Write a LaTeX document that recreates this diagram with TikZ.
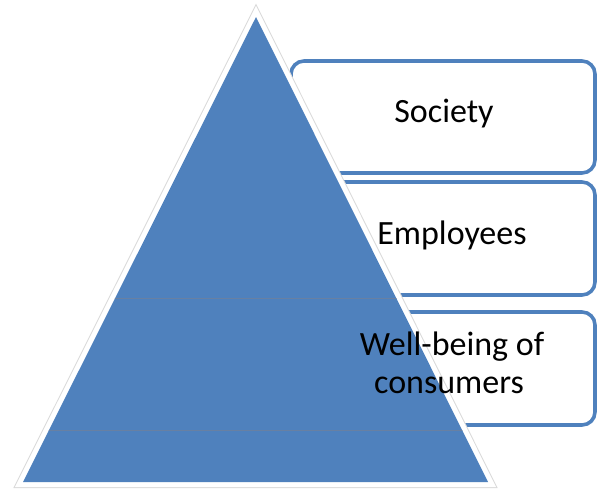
\documentclass[tikz,border=0pt]{standalone}
\usepackage{fontspec}
\setmainfont{Carlito}
\definecolor{pyrblue}{RGB}{79,129,189}
\definecolor{pyrseam}{RGB}{104,128,162}
\definecolor{pyrshade}{RGB}{218,218,218}
\begin{document}
\begin{tikzpicture}[x=1pt,y=-1pt,
  levelbox/.style={draw=pyrblue, line width=3.6pt, fill=white, rounded corners=13pt},
  leveltext/.style={font=\fontsize{34}{39}\selectfont, align=center, text=black, inner sep=0pt}]
\useasboundingbox (0,0) rectangle (597,491);

% level boxes on the right
\draw[levelbox] (291,61) rectangle (595,173) coordinate (b1);
\draw[levelbox] (291,182) rectangle (595,295) coordinate (b2);
\draw[levelbox] (291,312) rectangle (595,425) coordinate (b3);

% pyramid corners
\coordinate (apex) at (256,17);
\coordinate (bl) at (23,482);
\coordinate (br) at (488,482);

% soft outline and white rim of the pyramid
\draw[pyrshade, line width=12pt, line join=miter] (apex) -- (bl) -- (br) -- cycle;
\draw[white, line width=10pt, line join=miter] (apex) -- (bl) -- (br) -- cycle;
\fill[pyrblue] (apex) -- (bl) -- (br) -- cycle;

% faint seams across the pyramid
\begin{scope}
  \clip (apex) -- (bl) -- (br) -- cycle;
  \draw[pyrseam, line width=0.4pt] (0,298) -- (597,298);
  \draw[pyrseam, line width=0.4pt] (0,430) -- (597,430);
\end{scope}

% labels
\node[leveltext, anchor=base] (t1) at (444,122) {Society};
\node[leveltext, anchor=base] (t2) at (452,244) {Employees};
\node[leveltext, anchor=base] (t3a) at (452,355) {Well-being of};
\node[leveltext, anchor=base] (t3b) at (449,393) {consumers};
\end{tikzpicture}
\end{document}
